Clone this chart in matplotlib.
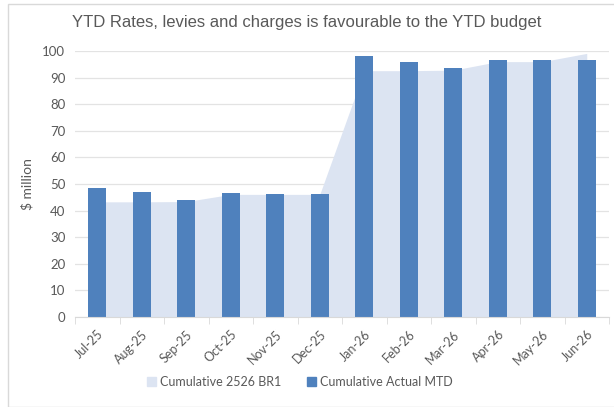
import matplotlib
matplotlib.use("Agg")
import matplotlib.pyplot as plt
from matplotlib.patches import Patch, Rectangle

months = ["Jul-25", "Aug-25", "Sep-25", "Oct-25", "Nov-25", "Dec-25",
          "Jan-26", "Feb-26", "Mar-26", "Apr-26", "May-26", "Jun-26"]
budget_br1 = [43.3, 43.3, 43.4, 46.1, 46.1, 46.1, 92.6, 92.6, 92.8, 96.0, 96.0, 99.1]
actual_mtd = [48.4, 46.9, 44.0, 46.5, 46.2, 46.2, 98.2, 95.7, 93.6, 96.7, 96.7, 96.7]

bar_blue = "#4F81BD"
area_blue = "#DCE4F2"
text_grey = "#595959"

fig = plt.figure(figsize=(6.14, 4.07), dpi=100)
fig.patches.append(Rectangle((8 / 614, 0), 1, 1 - 4 / 407, transform=fig.transFigure,
                             fill=False, edgecolor="#D9D9D9", linewidth=1))

ax = fig.add_axes([75 / 614, 1 - 317 / 407, 534 / 614, 266 / 407])
x = list(range(len(months)))

# budget as a shaded area behind the actual bars
ax.fill_between(x, budget_br1, color=area_blue, linewidth=0, zorder=1)
ax.bar(x, actual_mtd, width=0.4, color=bar_blue, zorder=2)

ax.set_xlim(-0.5, len(months) - 0.5)
ax.set_ylim(0, 100)
ax.set_yticks(range(0, 101, 10))
ax.yaxis.grid(True, color="#E3E3E3", linewidth=0.9, zorder=0)
ax.set_axisbelow(True)

for side in ["top", "right", "left"]:
    ax.spines[side].set_visible(False)
ax.spines["bottom"].set_color("#D9D9D9")

ax.set_xticks(x)
ax.set_xticklabels(months, rotation=45, ha="right", rotation_mode="anchor",
                   fontsize=9, color=text_grey, family="Lato")
ax.set_xticks([i - 0.5 for i in range(len(months) + 1)], minor=True)
ax.tick_params(axis="x", which="major", length=0, pad=8)
ax.tick_params(axis="x", which="minor", length=5, color="#D9D9D9")
ax.tick_params(axis="y", length=0, pad=7, labelsize=9.5, labelcolor=text_grey)
for lbl in ax.get_yticklabels():
    lbl.set_family("Lato")

ax.set_ylabel("$ million", fontsize=10, color=text_grey, family="Lato", labelpad=6)

fig.text(0.5, 1 - 22 / 407, "YTD Rates, levies and charges is favourable to the YTD budget",
         ha="center", va="center", fontsize=12, color=text_grey, family="Liberation Sans")

handles = [Patch(color=area_blue, label="Cumulative 2526 BR1"),
           Patch(color=bar_blue, label="Cumulative Actual MTD")]
fig.legend(handles=handles, loc="center", bbox_to_anchor=(300 / 614, 1 - 382 / 407),
           ncol=2, frameon=False, handlelength=0.7, handleheight=0.7, handletextpad=0.4,
           columnspacing=2.0, prop={"family": "Lato", "size": 9}, labelcolor=text_grey)

fig.savefig("out.png", dpi=100)
